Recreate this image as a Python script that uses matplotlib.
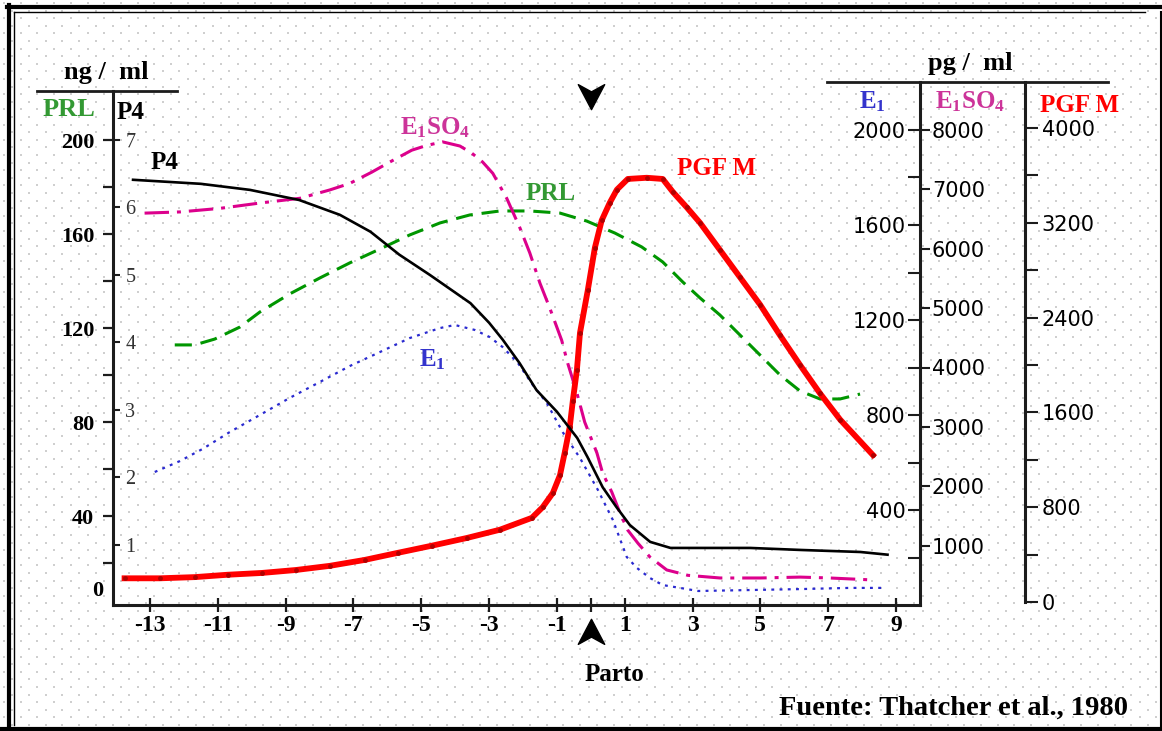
import matplotlib
matplotlib.use("Agg")
import matplotlib.pyplot as plt
import numpy as np
from matplotlib.path import Path

# days around delivery (0 = parto)
x_ticks = [-13, -11, -9, -7, -5, -3, -1, 0, 1, 3, 5, 7, 9]
x_labels = ["-13", "-11", "-9", "-7", "-5", "-3", "-1", "", "1", "3", "5", "7", "9"]

# P4, ng/ml
p4_day = [-13.5, -11.5, -10.05, -8.6, -7.4, -6.5, -5.65, -4.75, -3.55, -3.0, -2.6, -2.1,
          -1.6, -1.0, -0.4, -0.1, 0.35, 0.75, 1.15, 1.75, 2.35, 3.1, 4.7, 6.2, 7.95, 8.75]
p4_val = [6.41, 6.35, 6.26, 6.11, 5.89, 5.64, 5.30, 5.00, 4.58, 4.29, 4.04, 3.69,
          3.29, 2.97, 2.58, 2.30, 1.85, 1.56, 1.29, 1.04, 0.95, 0.95, 0.95, 0.92, 0.89, 0.85]

# PRL, ng/ml
prl_day = [-12.27, -11.68, -11.09, -10.35, -9.76, -8.88, -7.99, -7.11, -6.22, -5.34, -4.45,
           -3.57, -2.68, -1.8, -0.91, -0.12, 0.71, 1.5, 2.12, 2.71, 3.22, 3.81, 4.4, 4.99,
           5.58, 6.17, 6.76, 7.35, 7.94]
prl_val = [112.8, 112.8, 115.3, 120.4, 126.8, 134.5, 141.3, 147.7, 153.6, 159.6, 164.7,
           168.1, 169.8, 169.8, 168.9, 165.5, 160.4, 154.5, 148.1, 139.6, 132.8, 125.5, 117.0,
           108.5, 100.0, 93.2, 89.8, 89.8, 91.9]

# E1, pg/ml
e1_day = [-12.86, -12.12, -11.45, -10.65, -9.76, -8.88, -7.99, -7.11, -6.22, -5.34, -4.45,
          -4.01, -3.42, -2.98, -2.6, -2.15, -1.71, -1.3, -0.83, -0.32, 0.21, 0.65, 1.06, 1.36,
          1.74, 2.12, 2.63, 3.16, 4.69, 6.17, 7.64, 8.61]
e1_val = [560, 606, 657, 728, 800, 872, 939, 1006, 1065, 1124, 1166,
          1179, 1158, 1128, 1086, 1019, 926, 851, 728, 619, 484, 358, 202, 156,
          114, 84, 72, 59, 63, 67, 72, 72]

# E1SO4, pg/ml
e1so4_day = [-13.16, -12.12, -10.94, -9.76, -8.58, -7.7, -7.11, -6.46, -5.93, -5.28, -4.84,
             -4.37, -3.86, -3.51, -3.19, -2.89, -2.48, -2.09, -1.8, -1.5, -1.21, -0.86, -0.68,
             -0.41, -0.18, 0.18, 0.35, 0.62, 0.86, 1.09, 1.39, 1.74, 2.24, 2.86, 3.81, 4.99,
             6.17, 7.05, 8.38]
e1so4_val = [6600, 6620, 6680, 6770, 6850, 6990, 7100, 7290, 7460, 7660, 7740,
             7800, 7730, 7610, 7460, 7270, 6850, 6350, 5930, 5420, 5000, 4460, 4070,
             3570, 3080, 2560, 2220, 1900, 1550, 1260, 1040, 810, 590, 500, 455, 455,
             470, 455, 420]

# PGF M, pg/ml
pgf_day = [-13.75, -12.71, -11.68, -10.71, -9.71, -8.7, -7.7, -6.67, -5.69, -4.69, -3.66,
           -2.68, -1.74, -1.42, -1.12, -0.91, -0.77, -0.62, -0.53, -0.41, -0.32, -0.09, 0.12,
           0.32, 0.56, 0.77, 1.09, 1.65, 2.12, 2.42, 2.83, 3.22, 3.81, 4.4, 4.99, 5.58, 6.17,
           6.76, 7.35, 8.32]
pgf_val = [200, 200, 210, 230, 245, 270, 305, 355, 415, 475, 540,
           610, 710, 800, 920, 1070, 1260, 1480, 1700, 1960, 2270, 2630, 2990,
           3220, 3370, 3480, 3570, 3580, 3570, 3460, 3330, 3200, 2970, 2740, 2510, 2250, 2000,
           1760, 1540, 1240]

prl_ticks = [40, 80, 120, 160, 200]
prl_minor = [20, 60, 100, 140, 180]
p4_ticks = [1, 2, 3, 4, 5, 6, 7]
e1_ticks = [400, 800, 1200, 1600, 2000]
e1_minor = [200, 600, 1000, 1400, 1800]
e1so4_ticks = [1000, 2000, 3000, 4000, 5000, 6000, 7000, 8000]
pgf_ticks = [0, 800, 1600, 2400, 3200, 4000]
pgf_minor = [400, 1200, 2000, 2800, 3600]

GREEN, BLUE, MAGENTA, RED = "#009600", "#2a2ad0", "#dc008c", "#ff0000"
AXC = "#1c1c1c"

W, H = 1162, 731
plt.rcParams["font.family"] = ["Liberation Serif", "DejaVu Serif"]
plt.rcParams["font.weight"] = "bold"
plt.rcParams["mathtext.fontset"] = "custom"
plt.rcParams["mathtext.rm"] = "Liberation Serif:bold"
plt.rcParams["mathtext.it"] = "Liberation Serif:bold"
plt.rcParams["mathtext.bf"] = "Liberation Serif:bold"

fig = plt.figure(figsize=(W / 100, H / 100), dpi=100)
fig.patch.set_facecolor("white")


def ftext(px, py, s, **kw):
    kw.setdefault("ha", "center")
    kw.setdefault("va", "baseline")
    fig.text(px / W, 1 - py / H, s, **kw)


# dotted paper and the double frame
bg = fig.add_axes([0, 0, 1, 1], zorder=-5)
bg.set_xlim(0, W)
bg.set_ylim(H, 0)
bg.axis("off")
rows = np.arange(3, H, 7.6)
dx, dy = [], []
for i, yy in enumerate(rows):
    xs = np.arange(4 + (i % 2) * 8.35, W, 16.7)
    dx.extend(xs)
    dy.extend([yy] * len(xs))
bg.scatter(dx, dy, s=1.6, marker="s", color="#cfcfcf", linewidths=0)
bg.plot([9, 9], [5, H], color="black", lw=3)
bg.plot([7, W], [7, 7], color="black", lw=3)
bg.plot([0, W], [729, 729], color="black", lw=3)
bg.plot([13.5, 13.5], [12, 725], color="black", lw=1)
bg.plot([13.5, 1145], [12, 12], color="black", lw=1)
bg.plot([1160.5, 1160.5], [12, 727], color="black", lw=1.5)

# main axes, pixel frame of the original drawing
X_LEFT, X_RIGHT, Y_TOP, Y_BOT = 113, 920, 82, 605
ax = fig.add_axes([X_LEFT / W, 1 - Y_BOT / H, (X_RIGHT - X_LEFT) / W, (Y_BOT - Y_TOP) / H])


def span(v0, p0, v1, p1, pa, pb):
    k = (v1 - v0) / (p1 - p0)
    return v0 + k * (pa - p0), v0 + k * (pb - p0)


ax.set_xlim(span(-13, 150, 9, 896, X_LEFT, X_RIGHT))
ax_prl = ax.twinx()
ax_e1 = ax.twinx()
ax_so4 = ax.twinx()
ax_pgf = ax.twinx()

scales = [(ax, (0, 612, 7, 140)), (ax_prl, (0, 610, 200, 140)), (ax_e1, (0, 605, 2000, 130)),
          (ax_so4, (0, 605, 8000, 130)), (ax_pgf, (0, 602, 4000, 128))]
for a, sc in scales:
    a.set_ylim(span(*sc, Y_BOT, Y_TOP))
    a.patch.set_visible(False)
    for s in a.spines.values():
        s.set_visible(False)
        s.set_color(AXC)
        s.set_linewidth(2.2)

# curves
ax_prl.plot(prl_day, prl_val, color=GREEN, lw=2.2, ls=(0, (5.6, 2.9)))
ax_e1.plot(e1_day, e1_val, color=BLUE, lw=1.6, ls=(0, (1.3, 2.4)))
ax_so4.plot(e1so4_day, e1so4_val, color=MAGENTA, lw=2.2, ls=(0, (8, 2.6, 1.3, 2.6)))
ax_pgf.plot(pgf_day, pgf_val, color=RED, lw=4.2, marker="o", ms=3.5, mfc="#b00000",
            mec="none", solid_joinstyle="round")
ax.plot(p4_day, p4_val, color="black", lw=1.9)
ax.set_zorder(3)

# x axis
ax.spines["bottom"].set_visible(True)
ax.set_xticks(x_ticks, x_labels, fontsize=17)
ax.tick_params(axis="x", direction="inout", length=10, width=1.6, pad=2.5, color=AXC)

# left spine: PRL outside, P4 inside
top_prl = span(0, 610, 200, 140, 91, 91)[0]
ax_prl.spines["left"].set_visible(True)
ax_prl.spines["left"].set_bounds(ax_prl.get_ylim()[0], top_prl)
ax_prl.yaxis.tick_left()
ax_prl.set_yticks(prl_ticks, [str(v) for v in prl_ticks], fontsize=16)
ax_prl.set_yticks(prl_minor, minor=True)
ax_prl.tick_params(axis="y", which="both", direction="out", length=7, width=1.6, pad=6.5, color=AXC)
ax_prl.annotate("0", xy=(0, 0), xycoords=ax_prl.get_yaxis_transform(), xytext=(-15, 19),
                textcoords="offset pixels", ha="center", va="center", fontsize=16)

ax.spines["right"].set_position(("axes", 0))
ax.yaxis.tick_right()
ax.set_yticks(p4_ticks, [str(v) for v in p4_ticks], fontsize=14.5, fontweight="normal", color="#333333")
ax.tick_params(axis="y", direction="out", length=5, width=1.5, pad=4, color=AXC)

# right spine: E1 outside-left, E1SO4 right
ax_e1.spines["left"].set_position(("axes", 1))
ax_e1.spines["left"].set_visible(True)
ax_e1.yaxis.tick_left()
ax_e1.set_yticks(e1_ticks, [str(v) for v in e1_ticks], fontsize=15,
                 family="DejaVu Sans", fontweight="normal")
ax_e1.set_yticks(e1_minor, minor=True)
ax_e1.tick_params(axis="y", which="both", direction="out", length=9, width=1.5, pad=1.5, color=AXC)

ax_so4.yaxis.tick_right()
ax_so4.set_yticks(e1so4_ticks, [str(v) for v in e1so4_ticks], fontsize=15,
                  family="DejaVu Sans", fontweight="normal")
ax_so4.tick_params(axis="y", direction="out", length=7, width=1.5, pad=1.5, color=AXC)

# separate PGF M spine
ax_pgf.spines["right"].set_position(("axes", (1025 - X_LEFT) / (X_RIGHT - X_LEFT)))
ax_pgf.spines["right"].set_visible(True)
ax_pgf.spines["right"].set_bounds(0, ax_pgf.get_ylim()[1])
ax_pgf.yaxis.tick_right()
ax_pgf.set_yticks(pgf_ticks, [str(v) for v in pgf_ticks], fontsize=15,
                  family="DejaVu Sans", fontweight="normal")
ax_pgf.set_yticks(pgf_minor, minor=True)
ax_pgf.tick_params(axis="y", which="both", direction="out", length=9, width=1.5, pad=3, color=AXC)

# parto arrows
arrow = Path([(0, -1), (-1, 0.9), (0, 0.35), (1, 0.9), (0, -1)],
             [Path.MOVETO, Path.LINETO, Path.LINETO, Path.LINETO, Path.CLOSEPOLY])
arrow_up = Path(arrow.vertices * [1, -1], arrow.codes)
ax.plot([0], [0.973], transform=ax.get_xaxis_transform(), marker=arrow, ms=19,
        color="black", ls="none", clip_on=False)
ax.plot([0], [-0.052], transform=ax.get_xaxis_transform(), marker=arrow_up, ms=19,
        color="black", ls="none", clip_on=False)

# unit headers
fig.add_artist(plt.Line2D([37 / W, 177 / W], [1 - 91 / H] * 2, color=AXC, lw=2))
fig.add_artist(plt.Line2D([827 / W, 1108 / W], [1 - 82 / H] * 2, color=AXC, lw=2))
ftext(106, 79, "ng /  ml", fontsize=19)
ftext(69, 116, "PRL", fontsize=19, color="#339933")
ftext(131, 119, "P4", fontsize=18)
ftext(970, 70, "pg /  ml", fontsize=19)
ftext(872, 108, r"$\mathrm{E_1}$", fontsize=18, color="#3333cc")
ftext(970, 108, r"$\mathrm{E_1SO_4}$", fontsize=18, color="#cc3399")
ftext(1080, 112, "PGF M", fontsize=18, color=RED)

# curve labels
ftext(165, 169, "P4", fontsize=18)
ftext(435, 134, r"$\mathrm{E_1SO_4}$", fontsize=18, color="#cc3399")
ftext(551, 200, "PRL", fontsize=18, color="#339933")
ftext(717, 175, "PGF M", fontsize=18, color=RED)
ftext(432, 366, r"$\mathrm{E_1}$", fontsize=18, color="#3333cc")

ftext(614, 681, "Parto", fontsize=18)
ftext(1128, 715, "Fuente: Thatcher et al., 1980", fontsize=20.5, ha="right")

fig.savefig("out.png", dpi=100)
